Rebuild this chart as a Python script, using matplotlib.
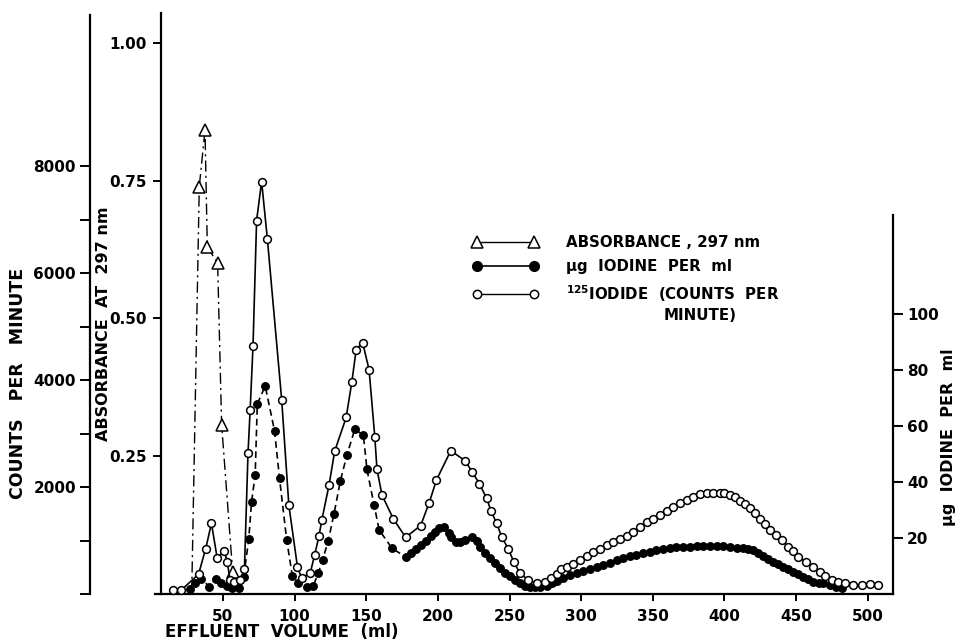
import matplotlib
matplotlib.use("Agg")
import matplotlib.pyplot as plt
from matplotlib.lines import Line2D

plt.rcParams['font.family'] = ['DejaVu Sans']
plt.rcParams['font.weight'] = 'bold'
plt.rcParams['mathtext.default'] = 'bf'

# ---- data -------------------------------------------------------------
abs_volume = [28.2, 33.5, 37.5, 39.1, 46.3, 49.1, 56.8]
abs_297 = [0.0, 0.739, 0.842, 0.630, 0.600, 0.307, 0.040]

cpm_volume = [15, 21, 33, 38, 42, 46, 51, 53, 55, 58, 62, 65, 67.5, 69, 71, 73.5,
              77, 81, 91, 96, 102, 105, 111, 114, 117, 119, 124, 128, 136, 140,
              143, 147.5, 152, 156, 157.5, 161, 169, 177.5, 188, 194, 199, 209,
              219, 224, 229, 234, 237, 241, 244.5, 249, 253, 257, 263, 269, 275,
              279, 283, 286, 290, 294.5, 299, 304, 308, 313, 318, 322, 327, 332,
              336, 341, 346, 350, 355, 360, 364, 369, 374, 378, 383, 388, 392,
              397, 400, 404, 407, 411, 414, 418, 421, 425, 428, 432, 436, 440,
              444.5, 448, 451.5, 457, 462, 467, 470, 475, 479, 484, 490, 496,
              501.5, 507]
cpm_counts = [75, 75, 370, 850, 1320, 670, 810, 600, 260, 230, 260, 460, 2630, 3440,
              4640, 6980, 7710, 6640, 3630, 1660, 510, 290, 400, 730, 1080, 1380,
              2030, 2670, 3300, 3970, 4570, 4700, 4190, 2930, 2330, 1850, 1400,
              1060, 1280, 1710, 2130, 2680, 2490, 2280, 2060, 1790, 1560, 1320,
              1070, 850, 600, 400, 260, 200, 230, 290, 370, 460, 510, 570, 640,
              710, 790, 850, 920, 980, 1020, 1080, 1160, 1260, 1350, 1410, 1480,
              1560, 1630, 1710, 1760, 1810, 1860, 1880, 1890, 1890, 1880, 1850,
              1820, 1740, 1680, 1600, 1510, 1410, 1310, 1200, 1100, 1010, 880,
              800, 700, 600, 510, 420, 340, 270, 230, 200, 170, 170, 190, 170]

iod_volume = [27, 30.5, 35, 40.5, 45, 49, 53, 56, 61.5, 64.5, 68, 70, 72.5, 74,
              79.5, 86, 89.5, 94.5, 98.5, 102.5, 108.5, 113, 116.5, 119.5, 123.5,
              127.5, 132, 136.5, 142, 148, 150.5, 155.5, 159, 168, 178, 181.5,
              185, 188.5, 192, 195.5, 198, 201, 204.5, 207.5, 209.5, 212.5,
              215.5, 219, 223.5, 227, 229.5, 233, 236.5, 240, 243.5, 247, 250.5,
              254, 257.5, 261, 264.5, 268, 271, 276, 279.5, 283, 287.5, 292, 297,
              301.5, 306, 311, 315.5, 320, 325, 329.5, 334, 338.5, 343, 348,
              352.5, 357, 362, 366.5, 371, 376, 380.5, 385, 390, 394.5, 399, 404,
              408.5, 413, 416.5, 420, 423.5, 427, 430.5, 434, 437.5, 441, 444.5,
              448, 451.5, 455, 458.5, 462, 466, 469, 473.5, 478, 482]
iod_ug = [1.7, 3.8, 5.4, 2.6, 5.4, 4.0, 2.9, 2.0, 2.0, 6.2, 19.5, 33.0, 42.5, 67.9,
          74.3, 58.3, 41.3, 19.3, 6.3, 4.0, 2.6, 2.9, 7.4, 12.1, 19.0, 28.6, 40.5,
          49.6, 58.8, 56.8, 44.5, 31.8, 22.9, 16.3, 13.1, 14.5, 16.0, 17.5, 19.0,
          20.7, 22.3, 23.7, 23.8, 21.9, 20.3, 18.7, 18.7, 19.3, 20.3, 19.0, 16.9,
          14.5, 12.8, 11.0, 9.2, 7.6, 6.4, 5.0, 3.8, 2.9, 2.4, 2.4, 2.6, 2.9, 3.8,
          4.8, 5.8, 6.8, 7.6, 8.3, 9.1, 9.8, 10.5, 11.2, 12.0, 12.8, 13.4, 13.9,
          14.5, 15.1, 15.6, 16.0, 16.4, 16.7, 16.8, 16.9, 17.0, 17.1, 17.2, 17.1,
          17.0, 16.9, 16.6, 16.3, 16.1, 15.7, 14.7, 13.6, 12.6, 11.5, 10.6, 9.8,
          8.9, 8.0, 7.1, 6.2, 5.3, 4.4, 4.0, 3.8, 3.2, 2.6, 2.2]

x_ticks = [50, 100, 150, 200, 250, 300, 350, 400, 450, 500]
abs_ticks = [0.25, 0.50, 0.75, 1.00]
cpm_ticks = [0, 1000, 2000, 3000, 4000, 5000, 6000, 7000, 8000]
cpm_labels = ['', '', '2000', '', '4000', '', '6000', '', '8000']
iod_ticks = [20, 40, 60, 80, 100]

# ---- figure -----------------------------------------------------------
W, H = 961, 640
fig = plt.figure(figsize=(W / 100, H / 100), dpi=100)
ax = fig.add_axes([155 / W, 46 / H, 738 / W, 581 / H])
ax_r = ax.twinx()
ax_c = ax.twinx()

LW_AX = 1.6
TICK_FS = 11

# absorbance axis (inner left)
ax.set_xlim(2.6, 517.6)
ax.set_ylim(0, 1.054)
for s in ('top', 'right'):
    ax.spines[s].set_visible(False)
ax.spines['left'].set_position(('data', 6.8))
for s in ('left', 'bottom'):
    ax.spines[s].set_linewidth(LW_AX)
ax.set_xticks(x_ticks)
ax.set_yticks(abs_ticks)
ax.set_yticklabels(['%.2f' % v for v in abs_ticks])
ax.tick_params(axis='x', direction='out', length=5, width=1.4, pad=6,
               labelsize=TICK_FS)
ax.tick_params(axis='y', direction='out', length=6, width=1.4, pad=4,
               labelsize=TICK_FS)

# iodine axis (right)
ax_r.set_ylim(0, 207.5)
for s in ('top', 'left', 'bottom'):
    ax_r.spines[s].set_visible(False)
ax_r.spines['right'].set_linewidth(LW_AX)
ax_r.spines['right'].set_bounds(0, 135.4)
ax_r.set_yticks(iod_ticks)
ax_r.tick_params(axis='y', direction='out', length=7, width=1.4, pad=3,
                 labelsize=TICK_FS)

# counts axis (outer left)
ax_c.set_ylim(0, 10860)
for s in ('top', 'right', 'bottom'):
    ax_c.spines[s].set_visible(False)
ax_c.spines['left'].set_visible(True)
ax_c.spines['left'].set_position(('axes', -65 / 738))
ax_c.spines['left'].set_linewidth(LW_AX)
ax_c.spines['left'].set_bounds(0, 10820)
ax_c.yaxis.tick_left()
ax_c.set_yticks(cpm_ticks)
ax_c.set_yticklabels(cpm_labels)
ax_c.tick_params(axis='y', direction='out', length=7, width=1.4, pad=3,
                 labelsize=TICK_FS)

# ---- series -----------------------------------------------------------
ax.plot(abs_volume, abs_297, color='black', lw=1.0,
        linestyle=(0, (8, 3, 1.5, 3)), marker='^', ms=9, mfc='white',
        mec='black', mew=1.1, markevery=list(range(1, len(abs_volume))),
        clip_on=False, zorder=3)

ax_r.plot(iod_volume, iod_ug, color='black', lw=1.2, linestyle=(0, (4, 2.5)),
          marker='o', ms=5.4, mfc='black', mec='black', clip_on=False,
          zorder=3)

ax_c.plot(cpm_volume, cpm_counts, color='black', lw=1.2, linestyle='-',
          marker='o', ms=5.6, mfc='white', mec='black', mew=1.1,
          clip_on=False, zorder=4)

# ---- axis titles ------------------------------------------------------
fig.text(18 / W, 1 - 383 / H, 'COUNTS   PER   MINUTE', rotation=90,
         ha='center', va='center', fontsize=12.5, weight='bold')
fig.text(103 / W, 1 - 324 / H, 'ABSORBANCE  AT  297 nm', rotation=90,
         ha='center', va='center', fontsize=11.5, weight='bold')
fig.text(948 / W, 1 - 437 / H, '\u00b5g  IODINE  PER  ml', rotation=90,
         ha='center', va='center', fontsize=11.5, weight='bold')
fig.text(282 / W, 1 - 632 / H, 'EFFLUENT  VOLUME  (ml)', ha='center',
         va='center', fontsize=12, weight='bold')

# ---- legend -----------------------------------------------------------
handles = [
    Line2D([], [], color='black', lw=1.0, marker='^', ms=9, mfc='white',
           mec='black', mew=1.1),
    Line2D([], [], color='black', lw=1.2, marker='o', ms=7, mfc='black',
           mec='black'),
    Line2D([], [], color='black', lw=1.0, marker='o', ms=6, mfc='white',
           mec='black', mew=1.1),
]
labels = [
    'ABSORBANCE , 297 nm',
    '\u00b5g  IODINE  PER  ml',
    '$^{125}$IODIDE  (COUNTS  PER',
]
fig.legend(handles, labels, loc='upper left',
           bbox_to_anchor=(472 / W, 1 - 235 / H), numpoints=2,
           handlelength=4.4, handletextpad=1.9, labelspacing=0.6,
           frameon=False, borderpad=0, borderaxespad=0,
           prop=dict(size=10.8, weight='bold'))
fig.text(737 / W, 1 - 316 / H, 'MINUTE)', ha='right', va='center',
         fontsize=10.8, weight='bold')

fig.savefig('out.png', dpi=100)
